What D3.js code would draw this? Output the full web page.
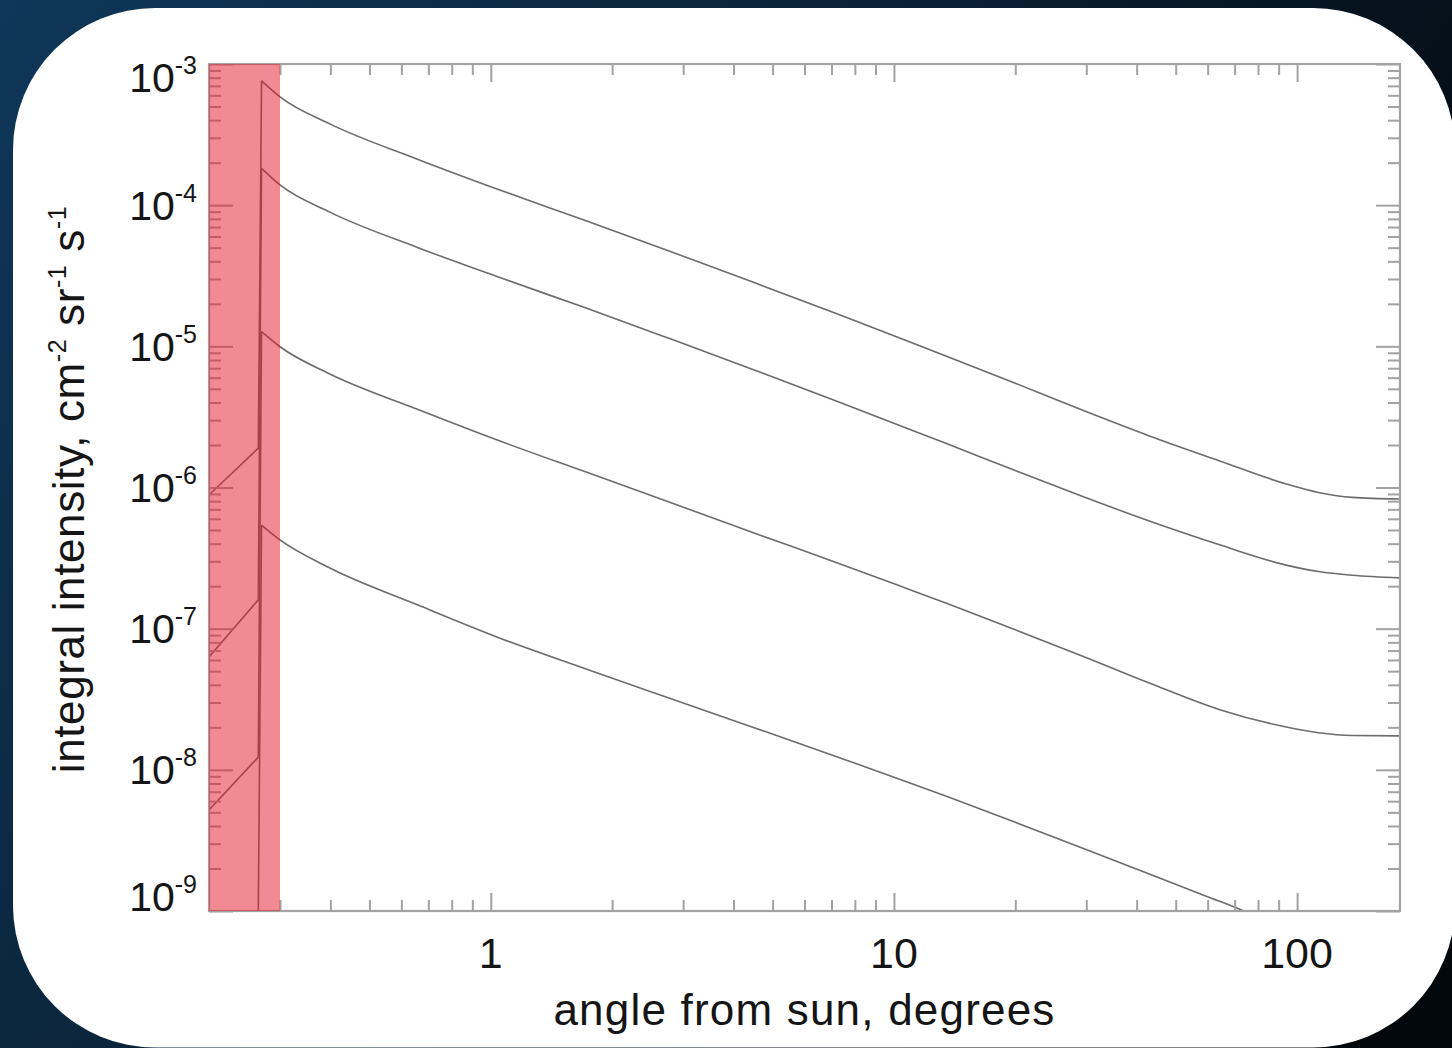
<!DOCTYPE html>
<html>
<head>
<meta charset="utf-8">
<script src="https://cdn.jsdelivr.net/npm/d3@7"></script>
<style>
html,body{margin:0;padding:0;overflow:hidden;background:#0a2236;}
svg{display:block;}
</style>
</head>
<body>
<svg id="chart" width="1452" height="1048"></svg>
<script>
// ---------------- DATA ----------------
// angles (degrees) inside the solar disk, and outside (peak at the limb onward)
const innerAngles = [0.2, 0.265];
const outerAngles = [0.27, 0.3, 0.4, 0.66, 1.07, 1.73, 2.8, 4.5, 7.3, 11, 13.6, 20, 29.4, 43, 64, 94, 113, 137, 180];

// integral intensity, cm^-2 sr^-1 s^-1
const curveAInner = [8.85e-7, 1.9e-6];
const curveAOuter = [7.6e-4, 5.86e-4, 3.75e-4, 2.11e-4, 1.26e-4, 7.73e-5, 4.68e-5, 2.83e-5, 1.68e-5, 1.07e-5, 8.45e-6, 5.48e-6, 3.52e-6, 2.32e-6, 1.55e-6, 1.06e-6, 9.23e-7, 8.51e-7, 8.28e-7];

const curveBInner = [6.3e-8, 1.6e-7];
const curveBOuter = [1.82e-4, 1.39e-4, 8.89e-5, 5.0e-5, 3.02e-5, 1.86e-5, 1.125e-5, 6.81e-6, 4.04e-6, 2.57e-6, 2.03e-6, 1.318e-6, 8.63e-7, 5.79e-7, 3.94e-7, 2.82e-7, 2.54e-7, 2.39e-7, 2.29e-7];

const curveCInner = [5.2e-9, 1.23e-8];
const curveCOuter = [1.27e-5, 9.93e-6, 6.35e-6, 3.57e-6, 2.10e-6, 1.28e-6, 7.80e-7, 4.76e-7, 2.90e-7, 1.88e-7, 1.50e-7, 9.82e-8, 6.38e-8, 4.12e-8, 2.68e-8, 2.01e-8, 1.83e-8, 1.75e-8, 1.74e-8];

const curveDInner = [4e-10, 9.5e-10];
const curveDOuter = [5.42e-7, 4.25e-7, 2.68e-7, 1.47e-7, 8.43e-8, 5.16e-8, 3.19e-8, 1.99e-8, 1.225e-8, 8.05e-9, 6.44e-9, 4.25e-9, 2.78e-9, 1.83e-9, 1.175e-9, 7.94e-10, 7.24e-10, 6.92e-10, 6.76e-10];

// shaded band (solar disk region), degrees
const sunBand = [0.2, 0.3];

// axes
const xDomain = [0.2, 180];
const yDomain = [1e-9, 1e-3];
const xTickLabels = [1, 10, 100];
const yTickExponents = [-3, -4, -5, -6, -7, -8, -9];
const xTitle = "angle from sun, degrees";
const yTitleParts = [["integral intensity, cm", false], ["-2", true], [" sr", false], ["-1", true], [" s", false], ["-1", true]];

// ---------------- LAYOUT ----------------
const W = 1452, H = 1048;
const plot = {left: 209, right: 1400, top: 64, bottom: 911};
const axisColor = "#a2a2a2";
const lineColor = "#6c6c6c";
const font = "'Liberation Sans', Arial, Helvetica, sans-serif";

const svg = d3.select("#chart");
const defs = svg.append("defs");

const grad = defs.append("linearGradient").attr("id", "bg")
  .attr("x1", 0).attr("y1", 0).attr("x2", 1).attr("y2", 0.45);
grad.append("stop").attr("offset", 0).attr("stop-color", "#0f3759");
grad.append("stop").attr("offset", 0.5).attr("stop-color", "#0a2237");
grad.append("stop").attr("offset", 1).attr("stop-color", "#03080d");

defs.append("clipPath").attr("id", "plotClip").append("rect")
  .attr("x", plot.left).attr("y", plot.top)
  .attr("width", plot.right - plot.left).attr("height", plot.bottom - plot.top);

svg.append("rect").attr("width", W).attr("height", H).attr("fill", "url(#bg)");

// white card
svg.append("rect").attr("x", 13).attr("y", 8).attr("width", 1442).attr("height", 1039.5)
  .attr("rx", 142).attr("ry", 142).attr("fill", "#ffffff");

// ---------------- SCALES ----------------
const x = d3.scaleLog().domain(xDomain).range([plot.left, plot.right]);
const y = d3.scaleLog().domain(yDomain).range([plot.bottom, plot.top]);

// ---------------- CURVES ----------------
const curves = [
  [curveAInner, curveAOuter],
  [curveBInner, curveBOuter],
  [curveCInner, curveCOuter],
  [curveDInner, curveDOuter]
];

const lineInner = d3.line().x(d => x(d[0])).y(d => y(d[1]));
const lineOuter = d3.line().x(d => x(d[0])).y(d => y(d[1])).curve(d3.curveMonotoneX);

const gCurves = svg.append("g").attr("clip-path", "url(#plotClip)");
curves.forEach(([inner, outer]) => {
  const innerPts = innerAngles.map((a, i) => [a, inner[i]]);
  const outerPts = outerAngles.map((a, i) => [a, outer[i]]);
  gCurves.append("path")
    .attr("d", lineInner(innerPts.concat([outerPts[0]])))
    .attr("fill", "none").attr("stroke", lineColor).attr("stroke-width", 1.6);
  gCurves.append("path")
    .attr("d", lineOuter(outerPts))
    .attr("fill", "none").attr("stroke", lineColor).attr("stroke-width", 1.6);
});

// ---------------- AXES (ticks inward) ----------------
const xMinor = x.ticks().filter(v => !xTickLabels.some(m => Math.abs(m - v) < 1e-9) && v > xDomain[0] * 1.0001);
const yMajorVals = yTickExponents.map(e => Math.pow(10, e));
const yMinor = y.ticks().filter(v => !yMajorVals.some(m => Math.abs(m - v) / m < 1e-6));

function styleAxis(g) {
  g.select(".domain").remove();
  g.selectAll(".tick line").attr("stroke", axisColor).attr("stroke-width", 2);
  g.selectAll(".tick text").remove();
}

const axes = svg.append("g");
axes.append("g").attr("transform", `translate(0,${plot.bottom})`)
  .call(d3.axisBottom(x).tickValues(xTickLabels).tickSize(-18).tickSizeOuter(0).tickFormat(() => "")).call(styleAxis);
axes.append("g").attr("transform", `translate(0,${plot.bottom})`)
  .call(d3.axisBottom(x).tickValues(xMinor).tickSize(-11).tickSizeOuter(0).tickFormat(() => "")).call(styleAxis);
axes.append("g").attr("transform", `translate(0,${plot.top})`)
  .call(d3.axisTop(x).tickValues(xTickLabels).tickSize(-18).tickSizeOuter(0).tickFormat(() => "")).call(styleAxis);
axes.append("g").attr("transform", `translate(0,${plot.top})`)
  .call(d3.axisTop(x).tickValues(xMinor).tickSize(-11).tickSizeOuter(0).tickFormat(() => "")).call(styleAxis);
axes.append("g").attr("transform", `translate(${plot.left},0)`)
  .call(d3.axisLeft(y).tickValues(yMajorVals).tickSize(-24).tickSizeOuter(0).tickFormat(() => "")).call(styleAxis);
axes.append("g").attr("transform", `translate(${plot.left},0)`)
  .call(d3.axisLeft(y).tickValues(yMinor).tickSize(-12).tickSizeOuter(0).tickFormat(() => "")).call(styleAxis);
axes.append("g").attr("transform", `translate(${plot.right},0)`)
  .call(d3.axisRight(y).tickValues(yMajorVals).tickSize(-24).tickSizeOuter(0).tickFormat(() => "")).call(styleAxis);
axes.append("g").attr("transform", `translate(${plot.right},0)`)
  .call(d3.axisRight(y).tickValues(yMinor).tickSize(-12).tickSizeOuter(0).tickFormat(() => "")).call(styleAxis);

// frame
svg.append("rect").attr("x", plot.left).attr("y", plot.top)
  .attr("width", plot.right - plot.left).attr("height", plot.bottom - plot.top)
  .attr("fill", "none").attr("stroke", axisColor).attr("stroke-width", 2.2);

// ---------------- SUN BAND (translucent red, on top) ----------------
svg.append("rect")
  .attr("x", x(sunBand[0])).attr("y", plot.top)
  .attr("width", x(sunBand[1]) - x(sunBand[0])).attr("height", plot.bottom - plot.top)
  .attr("fill", "rgb(228,22,38)").attr("fill-opacity", 0.5);

// ---------------- LABELS ----------------
const labels = svg.append("g").attr("font-family", font).attr("fill", "#151515");

// y tick labels 10^n
yTickExponents.forEach(e => {
  const yy = y(Math.pow(10, e));
  const base = Math.min(Math.max(yy + 14.5, plot.top + 28), plot.bottom);
  const t = labels.append("text").attr("x", 197).attr("y", base)
    .attr("text-anchor", "end").attr("font-size", 41);
  t.append("tspan").text("10");
  t.append("tspan").attr("font-size", 25).attr("dy", -18).text(String(e));
});

// x tick labels
xTickLabels.forEach(v => {
  labels.append("text").attr("x", x(v)).attr("y", 968)
    .attr("text-anchor", "middle").attr("font-size", 43).text(String(v));
});

// x title
labels.append("text").attr("x", (plot.left + plot.right) / 2).attr("y", 1025)
  .attr("text-anchor", "middle").attr("font-size", 44).attr("letter-spacing", 1.2)
  .text(xTitle);

// y title
const yt = labels.append("text")
  .attr("transform", `translate(84,${(plot.top + plot.bottom) / 2 + 2}) rotate(-90)`)
  .attr("text-anchor", "middle").attr("font-size", 44).attr("letter-spacing", 0.6)
  .style("white-space", "pre");
yTitleParts.forEach(([txt, sup], i) => {
  const prevSup = i > 0 && yTitleParts[i - 1][1];
  const ts = yt.append("tspan").text(txt);
  if (sup) ts.attr("font-size", 25).attr("dy", -18);
  else if (prevSup) ts.attr("dy", 18);
});
</script>
</body>
</html>
